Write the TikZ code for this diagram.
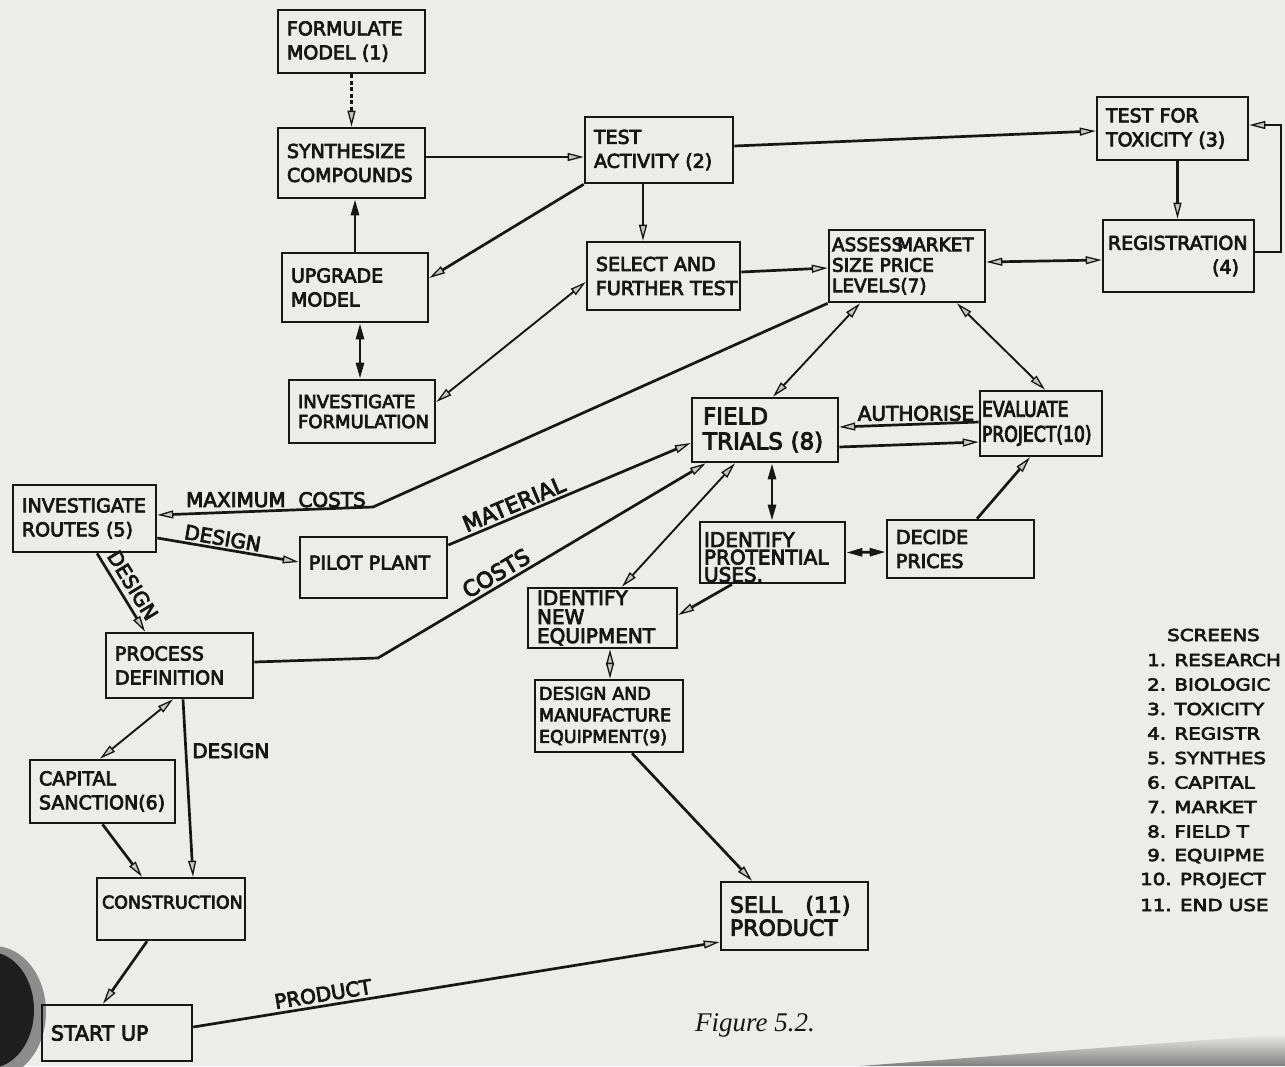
\documentclass[tikz,border=0pt]{standalone}
\usepackage{fontspec}
\setmainfont{DejaVu Sans}[FakeBold=4]
\newfontfamily\condfont{DejaVu Sans}[FakeStretch=0.8,FakeBold=4]
\newfontfamily\widefont{DejaVu Sans}[FakeStretch=1.2,FakeBold=4]
\newfontfamily\handfont{Liberation Serif}
\usetikzlibrary{arrows.meta,calc}
\definecolor{paper}{RGB}{236,236,234}
\definecolor{ink}{RGB}{22,22,22}
\newcommand{\mybox}[7]{%
  \pgfmathsetmacro\mbw{#4-#2}\pgfmathsetmacro\mbh{#5-#3}\pgfmathsetmacro\mtw{#4-#2-18}%
  \node[nbox,minimum width=\mbw pt,minimum height=\mbh pt,text width=\mtw pt,#6] (#1) at ({(#2+#4)/2},{(#3+#5)/2}) {#7};}
\tikzset{
  nbox/.style={draw=ink, line width=2.6pt, rectangle, inner sep=0pt, align=left, text=ink,
    font=\fontsize{19}{24}\selectfont},
  lbl/.style={font=\fontsize{20}{22}\selectfont, text=ink, inner sep=1pt},
  lblb/.style={font=\fontsize{22}{24}\selectfont, text=ink, inner sep=1pt},
  legtext/.style={font=\widefont\fontsize{16.5}{18}\selectfont, text=ink, inner sep=0pt, anchor=west},
  con/.style={draw=ink, line width=2.7pt},
  thinl/.style={line width=1.9pt},
  ar/.style={-{Triangle[length=16pt,width=8pt,line width=1.3pt,fill=gray!45]}},
  dar/.style={{Triangle[length=16pt,width=8pt,line width=1.3pt,fill=gray!45]}-{Triangle[length=16pt,width=8pt,line width=1.3pt,fill=gray!45]}},
  far/.style={-{Triangle[length=16pt,width=8pt]}},
  dfar/.style={{Triangle[length=16pt,width=8pt]}-{Triangle[length=16pt,width=8pt]}}
}
\begin{document}
\begin{tikzpicture}[x=1pt,y=-1pt]
\useasboundingbox (0,0) rectangle (1285,1066);
\fill[paper] (0,0) rectangle (1285,1066);
\shade[top color=paper, bottom color=black!50] (860,1066) -- (1285,1034) -- (1285,1066) -- cycle;
\fill[black!45] (-6,1012) ellipse [x radius=52pt, y radius=66pt];
\fill[black!88] (-10,1010) ellipse [x radius=44pt, y radius=58pt];

% boxes
\mybox{formulate}{278}{10}{425}{73}{}{FORMULATE\\MODEL~(1)}
\mybox{synth}{278}{128}{425}{198}{}{SYNTHESIZE\\COMPOUNDS}
\mybox{testact}{585}{117}{733}{183}{}{TEST\\ACTIVITY~(2)}
\mybox{toxicity}{1097}{97}{1248}{160}{}{TEST~FOR\\TOXICITY~(3)}
\mybox{upgrade}{282}{253}{428}{322}{}{UPGRADE\\MODEL}
\mybox{select}{587}{242}{740}{310}{}{SELECT~AND\\FURTHER~TEST}
\mybox{assess}{829}{230}{985}{302}{font=\fontsize{18.5}{20.5}\selectfont, text width=150pt}{ASSES\makebox[0.3em][l]{S}MARKET\\SIZE~PRICE\\LEVELS(7)}
\mybox{registration}{1103}{220}{1254}{292}{text width=141pt}{REGISTRATION\\\makebox[131pt][r]{(4)}}
\mybox{invform}{289}{380}{435}{443}{font=\fontsize{18}{20}\selectfont}{INVESTIGATE\\FORMULATION}
\mybox{fieldtrials}{692}{398}{838}{462}{font=\fontsize{23}{25}\selectfont, text width=124pt}{FIELD\\TRIALS~(8)}
\mybox{evaluate}{980}{391}{1102}{456}{font=\condfont\fontsize{21.5}{25}\selectfont, text width=118pt}{EVALUATE\\PROJECT(10)}
\mybox{routes}{13}{485}{156}{552}{}{INVESTIGATE\\ROUTES~(5)}
\mybox{pilot}{300}{537}{447}{598}{}{PILOT~PLANT\rule[-10pt]{0pt}{1pt}}
\mybox{uses}{700}{522}{845}{583}{font=\fontsize{20}{17.5}\selectfont, text width=137pt}{\rule{0pt}{24pt}IDENTIFY\\PROTENTIAL\\USES.}
\mybox{decide}{887}{520}{1034}{578}{}{DECIDE\\PRICES}
\mybox{procdef}{106}{633}{253}{698}{}{PROCESS\\DEFINITION}
\mybox{newequip}{528}{588}{677}{648}{font=\fontsize{20}{19}\selectfont}{IDENTIFY\\NEW\\EQUIPMENT}
\mybox{designmanuf}{535}{680}{683}{752}{font=\fontsize{17.5}{21.5}\selectfont, text width=140pt}{DESIGN~AND\\MANUFACTURE\\EQUIPMENT(9)}
\mybox{capital}{30}{760}{175}{823}{}{CAPITAL\\SANCTION(6)}
\mybox{construction}{97}{878}{245}{940}{font=\fontsize{17.5}{20}\selectfont, text width=138pt}{CONSTRUCTION\rule[-14pt]{0pt}{1pt}}
\mybox{sell}{721}{882}{868}{950}{font=\fontsize{22}{23}\selectfont}{SELL\hspace{23pt}(11)\\PRODUCT}
\mybox{startup}{42}{1005}{192}{1061}{font=\fontsize{20.5}{24}\selectfont}{START~UP}

% connectors
\draw[con, line width=2.2pt, dash pattern=on 4pt off 2.5pt, ar] (formulate.south) -- (formulate.south |- synth.north);
\draw[con, ar] ([yshift=6pt]synth.east) -- ([yshift=-7pt]testact.west);
\draw[con, far] (upgrade.north) -- (upgrade.north |- synth.south);
\draw[con, ar] (testact.south west) -- ([yshift=9.5pt]upgrade.east);
\draw[con, ar] ([xshift=-16pt]testact.south) -- ([xshift=-16pt]testact.south |- select.north);
\draw[con, ar] ([yshift=4pt]testact.east) -- ([yshift=-2.5pt]toxicity.west);
\draw[con, ar] ([xshift=5pt]toxicity.south) -- ([xshift=5pt]toxicity.south |- registration.north);
\coordinate (loopc) at (1281,125);
\draw[con, ar] ([yshift=4pt]registration.east) -| (loopc) -- ([yshift=3.5pt]toxicity.east);
\draw[con, ar] ([yshift=4pt]select.east) -- ([yshift=-2pt]assess.west);
\draw[con, dar] ([yshift=4pt]assess.east) -- ([yshift=-4pt]registration.west);
\draw[con, dfar] ([xshift=5pt]upgrade.south) -- ([xshift=5pt]upgrade.south |- invform.north);
\draw[con, thinl, dar] ([yshift=-6pt]select.west) -- ([yshift=9.5pt]invform.east);
\coordinate (mcbend) at (373,507);
\draw[con, ar] (assess.south west) -- (mcbend) -- node[lbl, above=1pt, pos=0.45] (lmax) {MAXIMUM~~COSTS} ([yshift=3.5pt]routes.east);
\draw[con, ar] ([yshift=-19.5pt]routes.east) -- node[lbl, sloped, above=1pt, pos=0.45] (ldesa) {DESIGN} ([yshift=5.5pt]pilot.west);
\draw[con, ar] ([yshift=22.5pt]pilot.east) -- node[lblb, sloped, above=2pt, pos=0.29] (lmat) {MATERIAL} ([yshift=-13pt]fieldtrials.west);
\coordinate (cbend) at (378,658);
\draw[con, ar] ([yshift=3.5pt]procdef.east) -- (cbend) -- node[lblb, sloped, above=2pt, pos=0.38] (lcost) {COSTS} ([xshift=15pt]fieldtrials.south west);
\draw[con, ar] ([xshift=12.5pt]routes.south) -- node[lbl, sloped, above=4pt] (ldesb) {DESIGN} ([xshift=-34.5pt]procdef.north);
\draw[con, thinl, dar] ([xshift=-6.5pt]procdef.south) -- ([xshift=-2.5pt]capital.north);
\draw[con, ar] ([xshift=3.5pt]procdef.south) -- node[lbl, right=4pt, pos=0.29] (ldesc) {DESIGN} ([xshift=22pt]construction.north);
\draw[con, ar] (capital.south) -- ([xshift=-29pt]construction.north);
\draw[con, ar] ([xshift=-24pt]construction.south) -- ([xshift=-14pt]startup.north);
\draw[con, ar] ([yshift=6pt]startup.east) -- node[lbl, sloped, above=2pt, pos=0.25] (lprod) {PRODUCT} ([yshift=-26pt]sell.west);
\draw[con, ar] ([xshift=23pt]designmanuf.south) -- ([xshift=-42.5pt]sell.north);
\draw[con, thinl, dar] ([xshift=8pt]fieldtrials.north) -- ([xshift=-47pt]assess.south);
\draw[con, thinl, dar] ([xshift=4pt]evaluate.north) -- ([xshift=50pt]assess.south);
\draw[con, ar] ([yshift=1.5pt]evaluate.west) -- node[lbl, above=1pt, pos=0.45] (lauth) {AUTHORISE} ([yshift=3pt]fieldtrials.east);
\draw[con, ar] ([yshift=-17pt]fieldtrials.east) -- ([yshift=-18.5pt]evaluate.west);
\draw[con, dfar] ([xshift=7pt]fieldtrials.south) -- ([xshift=7pt]fieldtrials.south |- uses.north);
\draw[con, dfar] (uses.east) -- ([yshift=-3pt]decide.west);
\draw[con, ar] ([xshift=16.5pt]decide.north) -- ([xshift=-11pt]evaluate.south);
\draw[con, ar] ([xshift=-40.5pt]uses.south) -- ([yshift=3pt]newequip.east);
\draw[con, thinl, dar] ([xshift=-30pt]fieldtrials.south) -- ([xshift=19.5pt]newequip.north);
\draw[con, thinl, dar] ([xshift=7.5pt]newequip.south) -- ([xshift=7.5pt]newequip.south |- designmanuf.north);

% legend
\node[legtext] (scr) at (1167,635) {SCREENS};
\node[legtext] (s1) at (1147,660) {1. RESEARCH};
\node[legtext] (s2) at (1147,684.5) {2. BIOLOGIC};
\node[legtext] (s3) at (1147,709) {3. TOXICITY};
\node[legtext] (s4) at (1147,733.5) {4. REGISTR};
\node[legtext] (s5) at (1147,758) {5. SYNTHES};
\node[legtext] (s6) at (1147,782.5) {6. CAPITAL};
\node[legtext] (s7) at (1147,807) {7. MARKET};
\node[legtext] (s8) at (1147,831.5) {8. FIELD T};
\node[legtext] (s9) at (1147,856) {9. EQUIPME};
\node[legtext] (s10) at (1140,880.5) {10. PROJECT};
\node[legtext] (s11) at (1140,905) {11. END USE};

\node[font=\handfont\itshape\fontsize{27}{30}\selectfont, text=ink, inner sep=0pt] (figlabel) at (755,1025) {Figure 5.2.};
\end{tikzpicture}
\end{document}
